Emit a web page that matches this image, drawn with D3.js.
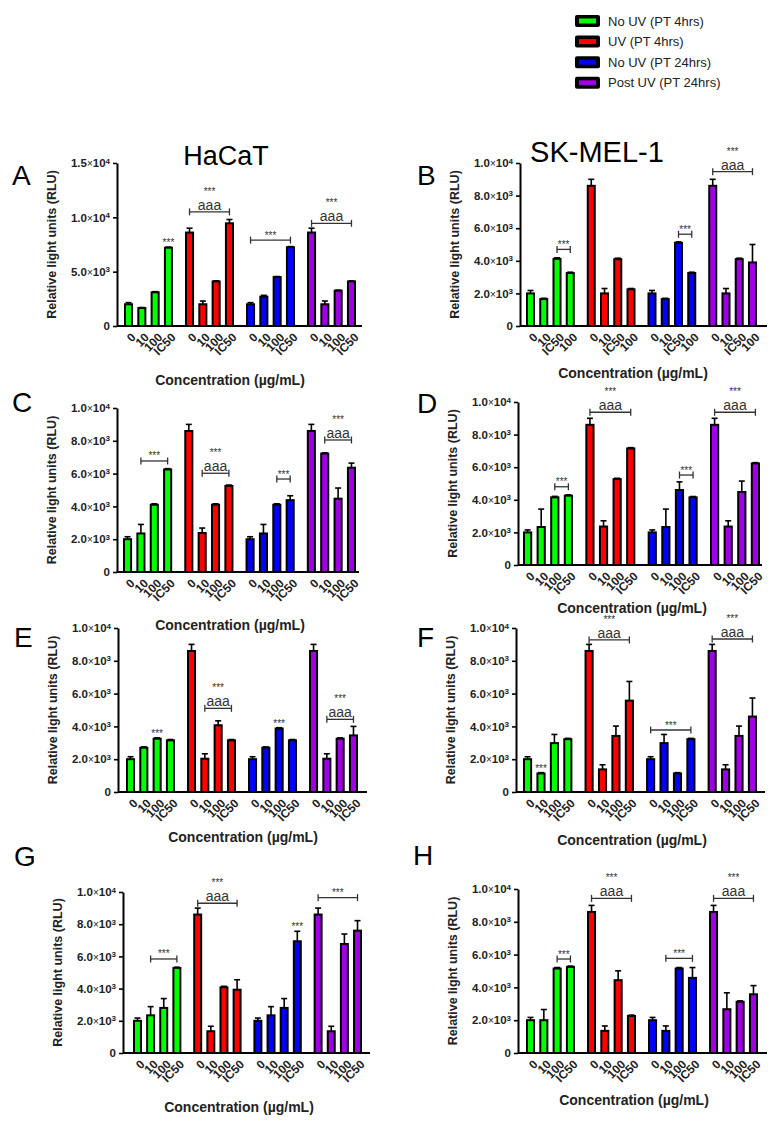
<!DOCTYPE html>
<html>
<head>
<meta charset="utf-8">
<script src="https://cdn.jsdelivr.net/npm/d3@7"></script>
<style>
  body { margin: 0; background: #fff; }
  text { font-family: "Liberation Sans", Arial, sans-serif; }
</style>
</head>
<body>
<script>
// treatment groups, one colour each
const groups = ["No UV (PT 4hrs)", "UV (PT 4hrs)", "No UV (PT 24hrs)", "Post UV (PT 24hrs)"];
const groupColors = ["#00ff00", "#ff0000", "#0000ff", "#a000e6"];

// concentration tick labels (panel B has a different order)
const concLabels = ["0", "10", "100", "IC50"];
const concLabelsB = ["0", "10", "IC50", "100"];

const yTicks15 = [0, 5000, 10000, 15000];
const yTicks10 = [0, 2000, 4000, 6000, 8000, 10000];

// means and SEM per group (rows) and concentration (cols), RLU
const meanA = [[2000, 1650, 3100, 7200], [8600, 2000, 4100, 9450], [2000, 2700, 4500, 7250], [8600, 2000, 3250, 4100]];
const errA  = [[150, 50, 60, 60], [400, 300, 60, 350], [150, 120, 50, 60], [400, 300, 50, 60]];

const meanB = [[2000, 1650, 4120, 3250], [8600, 2000, 4100, 2250], [2000, 1650, 5100, 3250], [8600, 2000, 4100, 3900]];
const errB  = [[180, 50, 60, 50], [400, 300, 60, 50], [180, 50, 60, 50], [400, 300, 60, 1100]];

const meanC = [[2000, 2350, 4100, 6250], [8600, 2380, 4100, 5250], [2000, 2350, 4100, 4380], [8600, 7220, 4470, 6360]];
const errC  = [[150, 550, 60, 50], [400, 300, 60, 50], [150, 550, 60, 270], [400, 50, 650, 280]];

const meanD = [[2000, 2330, 4150, 4250], [8600, 2360, 5270, 7150], [2000, 2330, 4600, 4150], [8600, 2360, 4480, 6230]];
const errD  = [[150, 1100, 60, 50], [400, 350, 50, 50], [150, 1100, 500, 50], [400, 350, 670, 50]];

const meanE = [[2000, 2700, 3250, 3150], [8600, 2030, 4070, 3150], [2000, 2700, 3870, 3150], [8600, 2030, 3250, 3450]];
const errE  = [[150, 50, 50, 50], [400, 300, 270, 50], [150, 50, 50, 50], [400, 300, 50, 550]];

const meanF = [[2000, 1130, 2980, 3220], [8600, 1380, 3420, 5570], [2000, 2980, 1130, 3220], [8600, 1380, 3420, 4600]];
const errF  = [[150, 50, 530, 50], [400, 280, 600, 1170], [150, 530, 50, 50], [400, 280, 600, 1130]];

const meanG = [[2000, 2340, 2800, 5280], [8600, 1350, 4080, 3930], [2000, 2340, 2800, 6940], [8600, 1350, 6770, 7600]];
const errG  = [[170, 540, 580, 50], [400, 310, 60, 620], [170, 540, 580, 620], [400, 310, 620, 620]];

const meanH = [[2000, 2000, 5150, 5250], [8600, 1350, 4440, 2260], [2000, 1350, 5150, 4580], [8600, 2670, 3120, 3580]];
const errH  = [[170, 650, 60, 50], [400, 300, 570, 50], [170, 300, 60, 630], [400, 1000, 60, 530]];

// significance brackets: group, first bar, last bar, level (RLU), with "aaa"
const bracketsA = [{g: 1, b0: 0, b1: 3, v: 10500, aaa: true}, {g: 2, b0: 0, b1: 3, v: 7900, aaa: false}, {g: 3, b0: 0, b1: 3, v: 9450, aaa: true}];
const bracketsB = [{g: 0, b0: 2, b1: 3, v: 4700, aaa: false}, {g: 2, b0: 2, b1: 3, v: 5630, aaa: false}, {g: 3, b0: 0, b1: 3, v: 9470, aaa: true}];
const bracketsC = [{g: 0, b0: 1, b1: 3, v: 6770, aaa: false}, {g: 1, b0: 1, b1: 3, v: 6020, aaa: true}, {g: 2, b0: 2, b1: 3, v: 5670, aaa: false}, {g: 3, b0: 1, b1: 3, v: 8050, aaa: true}];
const bracketsD = [{g: 0, b0: 2, b1: 3, v: 4800, aaa: false}, {g: 1, b0: 0, b1: 3, v: 9370, aaa: true}, {g: 2, b0: 2, b1: 3, v: 5520, aaa: false}, {g: 3, b0: 0, b1: 3, v: 9370, aaa: true}];
const bracketsE = [{g: 1, b0: 1, b1: 3, v: 5100, aaa: true}, {g: 3, b0: 1, b1: 3, v: 4430, aaa: true}];
const bracketsF = [{g: 1, b0: 0, b1: 3, v: 9270, aaa: true}, {g: 2, b0: 0, b1: 3, v: 3780, aaa: false}, {g: 3, b0: 0, b1: 3, v: 9330, aaa: true}];
const bracketsG = [{g: 0, b0: 1, b1: 3, v: 5840, aaa: false}, {g: 1, b0: 0, b1: 3, v: 9300, aaa: true}, {g: 3, b0: 0, b1: 3, v: 9650, aaa: false}];
const bracketsH = [{g: 0, b0: 2, b1: 3, v: 5730, aaa: false}, {g: 1, b0: 0, b1: 3, v: 9430, aaa: true}, {g: 2, b0: 1, b1: 3, v: 5770, aaa: false}, {g: 3, b0: 0, b1: 3, v: 9430, aaa: true}];

// single "***" over a bar
const starsA = [{g: 0, b: 3}];
const starsE = [{g: 0, b: 2}, {g: 2, b: 2}];
const starsF = [{g: 0, b: 1}];
const starsG = [{g: 2, b: 3}];

// layout of each panel (pixels)
const panels = [
  {id: "A", mean: meanA, err: errA, labels: concLabels, ymax: 15000, ticks: yTicks15, br: bracketsA, st: starsA,
   lay: {ax: 117, ae: 362, g0: 124, g1: 356, yt: 163, y0: 326, tx: 230, ty: 385, lx: 12, ly: 185}},
  {id: "B", mean: meanB, err: errB, labels: concLabelsB, ymax: 10000, ticks: yTicks10, br: bracketsB, st: [],
   lay: {ax: 520, ae: 767, g0: 526, g1: 757, yt: 163, y0: 326, tx: 633, ty: 378, lx: 417, ly: 185}},
  {id: "C", mean: meanC, err: errC, labels: concLabels, ymax: 10000, ticks: yTicks10, br: bracketsC, st: [],
   lay: {ax: 117, ae: 359, g0: 123, g1: 356, yt: 408, y0: 572, tx: 230, ty: 630, lx: 12, ly: 412}},
  {id: "D", mean: meanD, err: errD, labels: concLabels, ymax: 10000, ticks: yTicks10, br: bracketsD, st: [],
   lay: {ax: 518, ae: 762, g0: 523, g1: 760, yt: 402, y0: 565, tx: 632, ty: 613, lx: 417, ly: 413}},
  {id: "E", mean: meanE, err: errE, labels: concLabels, ymax: 10000, ticks: yTicks10, br: bracketsE, st: starsE,
   lay: {ax: 118, ae: 367, g0: 126, g1: 358, yt: 628, y0: 792, tx: 243, ty: 842, lx: 14, ly: 647}},
  {id: "F", mean: meanF, err: errF, labels: concLabels, ymax: 10000, ticks: yTicks10, br: bracketsF, st: starsF,
   lay: {ax: 516, ae: 765, g0: 523, g1: 757, yt: 628, y0: 792, tx: 632, ty: 845, lx: 417, ly: 647}},
  {id: "G", mean: meanG, err: errG, labels: concLabels, ymax: 10000, ticks: yTicks10, br: bracketsG, st: starsG,
   lay: {ax: 123, ae: 370, g0: 133, g1: 362, yt: 892, y0: 1053, tx: 239, ty: 1112, lx: 14, ly: 866}},
  {id: "H", mean: meanH, err: errH, labels: concLabels, ymax: 10000, ticks: yTicks10, br: bracketsH, st: [],
   lay: {ax: 518, ae: 767, g0: 526, g1: 758, yt: 889, y0: 1053, tx: 634, ty: 1105, lx: 413, ly: 865}}
];

const svg = d3.select("body").append("svg")
    .attr("width", 782)
    .attr("height", 1122);

// cell line titles
svg.append("text").attr("x", 226).attr("y", 165).attr("text-anchor", "middle")
    .attr("font-size", 27).text("HaCaT");
svg.append("text").attr("x", 597).attr("y", 162).attr("text-anchor", "middle")
    .attr("font-size", 29).text("SK-MEL-1");

// legend
const legend = svg.append("g");
groups.forEach((name, i) => {
    const ly = 21 + i * 20.6;
    legend.append("rect").attr("x", 575).attr("y", ly - 6).attr("width", 25).attr("height", 12)
        .attr("rx", 2).attr("fill", "#000");
    legend.append("rect").attr("x", 579).attr("y", ly - 2.5).attr("width", 17).attr("height", 5)
        .attr("fill", groupColors[i]);
    legend.append("text").attr("x", 608).attr("y", ly + 4.5).attr("font-size", 13)
        .attr("fill", "#222").text(name);
});

function drawPanel(p) {
    const L = p.lay;
    const y = d3.scaleLinear().domain([0, p.ymax]).range([L.y0, L.yt]);
    const gx = d3.scaleBand().domain(d3.range(4)).range([L.g0 + 1, L.g1 - 1]).paddingInner(0.23);
    const bx = d3.scaleBand().domain(d3.range(4)).range([0, gx.bandwidth()]).paddingInner(0.47);
    const cx = (g, b) => gx(g) + bx(b) + bx.bandwidth() / 2;

    const rows = [];
    p.mean.forEach((r, g) => r.forEach((v, b) => rows.push({g: g, b: b, v: v, e: p.err[g][b]})));

    const chart = svg.append("g");

    // panel letter
    chart.append("text").attr("x", L.lx).attr("y", L.ly).attr("font-size", 28).text(p.id);

    // error bars (upper only)
    const eb = chart.append("g").attr("stroke", "#000").attr("stroke-width", 1.6);
    eb.selectAll(".stem").data(rows).enter().append("line")
        .attr("x1", d => cx(d.g, d.b)).attr("x2", d => cx(d.g, d.b))
        .attr("y1", d => y(d.v)).attr("y2", d => y(d.v + d.e));
    eb.selectAll(".cap").data(rows).enter().append("line")
        .attr("x1", d => cx(d.g, d.b) - 3).attr("x2", d => cx(d.g, d.b) + 3)
        .attr("y1", d => y(d.v + d.e)).attr("y2", d => y(d.v + d.e));

    // bars
    chart.selectAll(".bar").data(rows).enter().append("rect")
        .attr("x", d => gx(d.g) + bx(d.b))
        .attr("y", d => y(d.v))
        .attr("width", bx.bandwidth())
        .attr("height", d => L.y0 - y(d.v))
        .attr("fill", d => groupColors[d.g])
        .attr("stroke", "#000")
        .attr("stroke-width", 2);

    // y axis
    const yAxis = chart.append("g")
        .attr("transform", `translate(${L.ax},0)`)
        .call(d3.axisLeft(y).tickValues(p.ticks).tickSize(4).tickSizeOuter(0).tickPadding(3));
    yAxis.select(".domain").attr("stroke-width", 2);
    yAxis.selectAll(".tick line").attr("stroke-width", 1.6);
    yAxis.selectAll(".tick text").each(function(v) {
        const t = d3.select(this).text(null)
            .attr("font-family", "Liberation Sans, Arial, sans-serif")
            .attr("font-size", 11.5).attr("font-weight", "bold").attr("fill", "#222");
        if (v === 0) { t.text("0"); return; }
        const e = Math.floor(Math.log10(v));
        t.append("tspan").text((v / Math.pow(10, e)).toFixed(1));
        t.append("tspan").attr("font-size", 10).attr("font-weight", "normal").text("×");
        t.append("tspan").text("10");
        t.append("tspan").attr("dy", "-0.45em").attr("font-size", 8).text(e);
    });

    // x axis line
    chart.append("line").attr("x1", L.ax).attr("x2", L.ae).attr("y1", L.y0).attr("y2", L.y0)
        .attr("stroke", "#000").attr("stroke-width", 2);

    // rotated concentration labels
    chart.selectAll(".xl").data(rows).enter().append("text")
        .attr("transform", d => `translate(${cx(d.g, d.b) + 8},${L.y0 + 12}) rotate(-45)`)
        .attr("text-anchor", "end")
        .attr("font-size", 12).attr("font-weight", "bold").attr("fill", "#222")
        .text(d => p.labels[d.b]);

    // axis titles
    chart.append("text")
        .attr("transform", `translate(${L.ax - 61},${(L.yt + L.y0) / 2}) rotate(-90)`)
        .attr("text-anchor", "middle").attr("font-size", 12.5).attr("font-weight", "bold").attr("fill", "#222")
        .text("Relative light units (RLU)");
    chart.append("text").attr("x", L.tx).attr("y", L.ty).attr("text-anchor", "middle")
        .attr("font-size", 14).attr("font-weight", "bold").attr("fill", "#222")
        .text("Concentration (µg/mL)");

    // significance brackets
    p.br.forEach(b => {
        const x1 = cx(b.g, b.b0), x2 = cx(b.g, b.b1), yy = y(b.v);
        const br = chart.append("g").attr("stroke", "#333").attr("stroke-width", 1.3);
        br.append("line").attr("x1", x1).attr("x2", x2).attr("y1", yy).attr("y2", yy);
        br.append("line").attr("x1", x1).attr("x2", x1).attr("y1", yy - 3.5).attr("y2", yy + 3.5);
        br.append("line").attr("x1", x2).attr("x2", x2).attr("y1", yy - 3.5).attr("y2", yy + 3.5);
        const mx = (x1 + x2) / 2;
        if (b.aaa) {
            chart.append("text").attr("x", mx).attr("y", yy - 2).attr("text-anchor", "middle")
                .attr("font-size", 14).attr("fill", "#333").text("aaa");
            chart.append("text").attr("x", mx).attr("y", yy - 17).attr("text-anchor", "middle")
                .attr("font-size", 10).attr("fill", "#333").text("***");
        } else {
            chart.append("text").attr("x", mx).attr("y", yy - 1.5).attr("text-anchor", "middle")
                .attr("font-size", 10).attr("fill", "#333").text("***");
        }
    });

    // stars over single bars
    p.st.forEach(s => {
        const top = y(p.mean[s.g][s.b] + p.err[s.g][s.b]);
        chart.append("text").attr("x", cx(s.g, s.b)).attr("y", top - 1)
            .attr("text-anchor", "middle").attr("font-size", 10).attr("fill", "#333").text("***");
    });
}

panels.forEach(drawPanel);
</script>
</body>
</html>
